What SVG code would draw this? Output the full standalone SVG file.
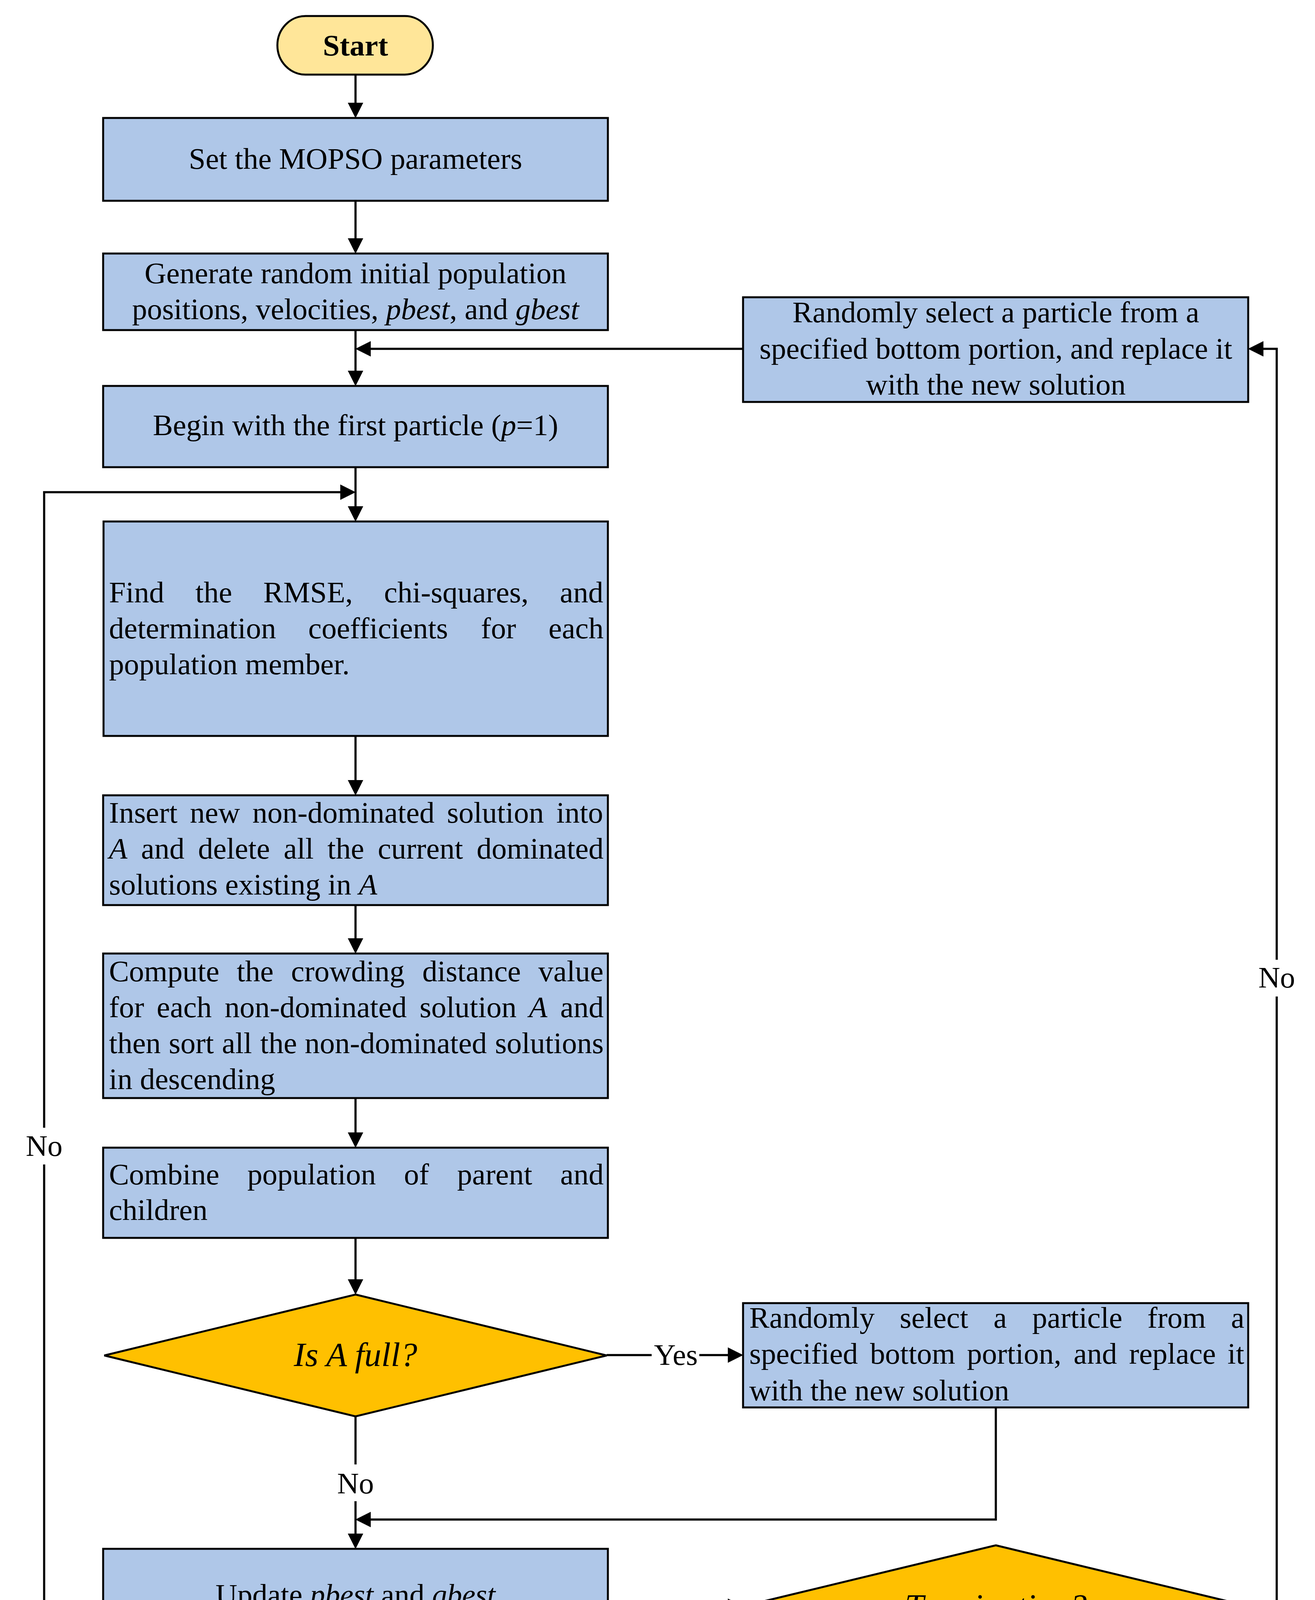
<svg xmlns="http://www.w3.org/2000/svg" width="3366" height="5717" viewBox="0 0 3366 5717">
<style>
.box{fill:#AFC7E8;stroke:#000;stroke-width:5}
.dec{fill:#FFC000;stroke:#000;stroke-width:5;stroke-linejoin:miter}
.term{fill:#FFE699;stroke:#000;stroke-width:5}
.t{font-family:"Liberation Serif","Times New Roman",serif;font-size:77px;fill:#000}
.d{font-family:"Liberation Serif","Times New Roman",serif;font-size:87px;font-style:italic;fill:#000;text-anchor:middle}
.c{text-anchor:middle}
.b{font-weight:bold}
.i{font-style:italic}
.conn{fill:none;stroke:#000;stroke-width:5.5}
</style>
<defs>
<marker id="ah" markerUnits="userSpaceOnUse" markerWidth="40" markerHeight="40" viewBox="0 0 38 38" refX="28" refY="19" orient="auto">
<path d="M0,0 L38,19 L0,38 z" fill="#000"/>
</marker>
</defs>
<rect width="3366" height="5717" fill="#fff"/>

<g id="connectors">
<path class="conn" d="M910,191 V292" marker-end="url(#ah)"/>
<path class="conn" d="M910,514 V639" marker-end="url(#ah)"/>
<path class="conn" d="M910,845 V978" marker-end="url(#ah)"/>
<path class="conn" d="M1902,893 H920" marker-end="url(#ah)"/>
<path class="conn" d="M910,1196 V1325" marker-end="url(#ah)"/>
<path class="conn" d="M267,5252 H113 V2981"/>
<path class="conn" d="M113,2887 V1260 H900" marker-end="url(#ah)"/>
<path class="conn" d="M910,1884 V2026" marker-end="url(#ah)"/>
<path class="conn" d="M910,2317 V2431" marker-end="url(#ah)"/>
<path class="conn" d="M910,2811 V2928" marker-end="url(#ah)"/>
<path class="conn" d="M910,3169 V3304" marker-end="url(#ah)"/>
<path class="conn" d="M1553,3469 H1668"/>
<path class="conn" d="M1790,3469 H1892" marker-end="url(#ah)"/>
<path class="conn" d="M910,3626 V3749"/>
<path class="conn" d="M910,3843 V3955" marker-end="url(#ah)"/>
<path class="conn" d="M2549,3603 V3890 H920" marker-end="url(#ah)"/>
<path class="conn" d="M910,4198 V4334" marker-end="url(#ah)"/>
<path class="conn" d="M910,4575 V4711" marker-end="url(#ah)"/>
<path class="conn" d="M910,4954 V5086" marker-end="url(#ah)"/>
<path class="conn" d="M1553,5252 H1751 V4753"/>
<path class="conn" d="M1751,4657 V4112 H1892" marker-end="url(#ah)"/>
<path class="conn" d="M3196,4112 H3268 V2551"/>
<path class="conn" d="M3268,2457 V893 H3205" marker-end="url(#ah)"/>
<path class="conn" d="M2549,4268 V4336"/>
<path class="conn" d="M2549,4432 V4491" marker-end="url(#ah)"/>
<path class="conn" d="M2549,4765 V4921" marker-end="url(#ah)"/>
<path class="conn" d="M2549,5311 V5440" marker-end="url(#ah)"/>
<text class="t c" x="1730" y="3494">Yes</text>
<text class="t c" x="910" y="3823">No</text>
<text class="t c" x="113" y="2959">No</text>
<text class="t c" x="3268" y="2528">No</text>
<text class="t c" x="1751" y="4729">Yes</text>
<text class="t c" x="2549" y="4408">Yes</text>
</g>

<g id="start">
<rect class="term" x="710" y="41" width="398" height="150" rx="72" ry="75"/>
<text class="t c b" x="910" y="142">Start</text>
</g>

<g id="set-params">
<rect class="box" x="264" y="302" width="1292" height="212"/>
<text class="t c" x="910" y="432">Set the MOPSO parameters</text>
</g>

<g id="generate">
<rect class="box" x="264" y="649" width="1292" height="196"/>
<text class="t c" x="910" y="725">Generate random initial population</text>
<text class="t c" x="910" y="817">positions, velocities, <tspan class="i">pbest</tspan>, and <tspan class="i">gbest</tspan></text>
</g>

<g id="begin">
<rect class="box" x="264" y="988" width="1292" height="208"/>
<text class="t c" x="910" y="1114">Begin with the first particle (<tspan class="i">p</tspan>=1)</text>
</g>

<g id="random-top">
<rect class="box" x="1902" y="761" width="1293" height="268"/>
<text class="t c" x="2549" y="825">Randomly select a particle from a</text>
<text class="t c" x="2549" y="918">specified bottom portion, and replace it</text>
<text class="t c" x="2549" y="1010">with the new solution</text>
</g>

<g id="find">
<rect class="box" x="265" y="1335" width="1291" height="549"/>
<text class="t" y="1542"><tspan x="279">Find</tspan><tspan x="500">the</tspan><tspan x="674">RMSE,</tspan><tspan x="983">chi-squares,</tspan><tspan x="1433">and</tspan></text>
<text class="t" y="1634"><tspan x="279">determination</tspan><tspan x="789">coefficients</tspan><tspan x="1231">for</tspan><tspan x="1404">each</tspan></text>
<text class="t" x="279" y="1726">population member.</text>
</g>

<g id="insert">
<rect class="box" x="264" y="2036" width="1292" height="281"/>
<text class="t" y="2106"><tspan x="279">Insert</tspan><tspan x="486">new</tspan><tspan x="646">non-dominated</tspan><tspan x="1144">solution</tspan><tspan x="1424">into</tspan></text>
<text class="t" y="2198"><tspan x="279" class="i">A</tspan><tspan x="361">and</tspan><tspan x="507">delete</tspan><tspan x="726">all</tspan><tspan x="838">the</tspan><tspan x="967">current</tspan><tspan x="1220">dominated</tspan></text>
<text class="t" x="279" y="2290">solutions existing in <tspan class="i">A</tspan></text>
</g>

<g id="compute">
<rect class="box" x="264" y="2441" width="1292" height="370"/>
<text class="t" y="2512"><tspan x="279">Compute</tspan><tspan x="606">the</tspan><tspan x="745">crowding</tspan><tspan x="1081">distance</tspan><tspan x="1378">value</tspan></text>
<text class="t" y="2604"><tspan x="279">for</tspan><tspan x="401">each</tspan><tspan x="575">non-dominated</tspan><tspan x="1074">solution</tspan><tspan x="1354" class="i">A</tspan><tspan x="1434">and</tspan></text>
<text class="t" y="2696"><tspan x="279">then</tspan><tspan x="432">sort</tspan><tspan x="568">all</tspan><tspan x="666">the</tspan><tspan x="780">non-dominated</tspan><tspan x="1267">solutions</tspan></text>
<text class="t" x="279" y="2788">in descending</text>
</g>

<g id="combine">
<rect class="box" x="264" y="2938" width="1292" height="231"/>
<text class="t" y="3032"><tspan x="279">Combine</tspan><tspan x="633">population</tspan><tspan x="1034">of</tspan><tspan x="1170">parent</tspan><tspan x="1434">and</tspan></text>
<text class="t" x="279" y="3123">children</text>
</g>

<g id="is-a-full">
<polygon class="dec" points="910,3314 1553,3470 910,3626 267,3470"/>
<text class="d" x="910" y="3497">Is A full?</text>
</g>

<g id="random-mid">
<rect class="box" x="1902" y="3336" width="1293" height="267"/>
<text class="t" y="3399"><tspan x="1918">Randomly</tspan><tspan x="2303">select</tspan><tspan x="2543">a</tspan><tspan x="2642">particle</tspan><tspan x="2937">from</tspan><tspan x="3151">a</tspan></text>
<text class="t" y="3491"><tspan x="1918">specified</tspan><tspan x="2227">bottom</tspan><tspan x="2475">portion,</tspan><tspan x="2748">and</tspan><tspan x="2890">replace</tspan><tspan x="3142">it</tspan></text>
<text class="t" x="1918" y="3585">with the new solution</text>
</g>

<g id="update-best">
<rect class="box" x="264" y="3965" width="1292" height="233"/>
<text class="t c" x="910" y="4108">Update <tspan class="i">pbest</tspan> and <tspan class="i">gbest</tspan></text>
</g>

<g id="update-particle">
<rect class="box" x="264" y="4344" width="1292" height="231"/>
<text class="t c" x="910" y="4488">Update particle position velocity</text>
</g>

<g id="increment">
<rect class="box" x="264" y="4721" width="1292" height="233"/>
<text class="t c" x="910" y="4867"><tspan class="i">p</tspan>=<tspan class="i">p</tspan>+1</text>
</g>

<g id="last-particle">
<polygon class="dec" points="910,5096 1553,5252 910,5408 267,5252"/>
<text class="d" x="910" y="5282">Last particle achieved?</text>
</g>

<g id="termination">
<polygon class="dec" points="2549,3956 3196,4112 2549,4268 1902,4112"/>
<text class="d" x="2549" y="4141">Termination?</text>
</g>

<g id="gather">
<rect class="box" x="1902" y="4501" width="1293" height="264"/>
<text class="t" y="4610"><tspan x="1918">Gather</tspan><tspan x="2150">the</tspan><tspan x="2267">obtained</tspan><tspan x="2555">pareto-solutions</tspan><tspan x="3074">and</tspan></text>
<text class="t" x="1918" y="4702">report them all.</text>
</g>

<g id="apply">
<rect class="box" x="1902" y="4931" width="1293" height="380"/>
<text class="t" y="5051"><tspan x="1918">Apply</tspan><tspan x="2194">the</tspan><tspan x="2372">TOPSIS</tspan><tspan x="2712">algorithm</tspan><tspan x="3095">for</tspan></text>
<text class="t" y="5145"><tspan x="1918">choosing</tspan><tspan x="2235">the</tspan><tspan x="2368">best</tspan><tspan x="2530">alternative</tspan><tspan x="2894">based</tspan><tspan x="3108">on</tspan></text>
<text class="t" x="1918" y="5237">the criteria assigned to each objective.</text>
</g>

<g id="stop">
<rect class="term" x="2350" y="5450" width="397" height="149" rx="72" ry="74.5"/>
<text class="t c b" x="2549" y="5549">Stop</text>
</g>

<text class="t c" x="1690" y="5683">(<tspan class="b">b</tspan>)</text>
</svg>
